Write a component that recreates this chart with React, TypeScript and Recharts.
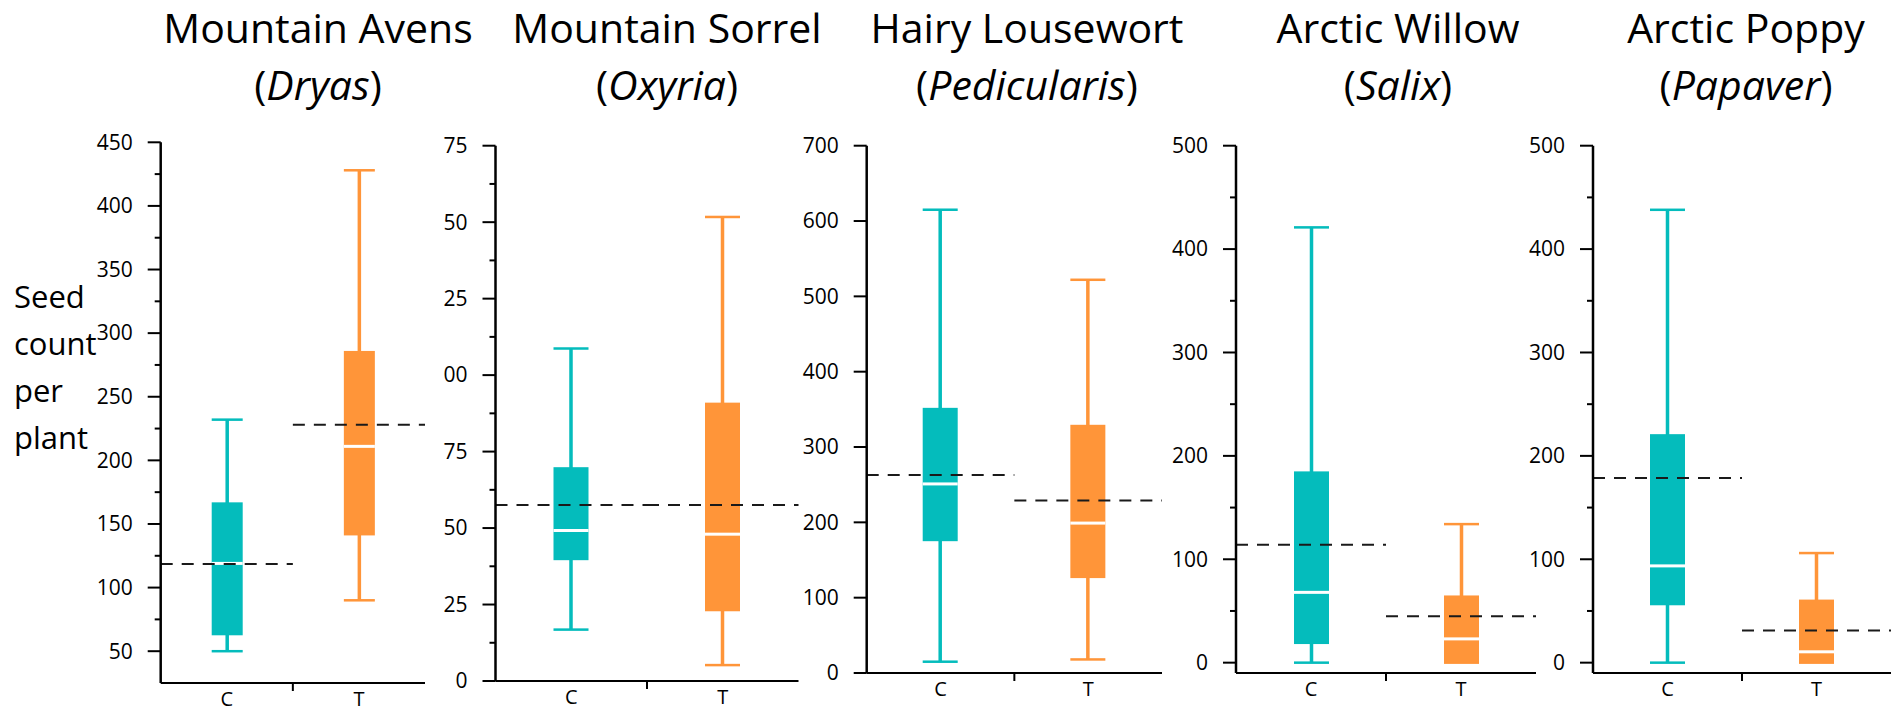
import { ComposedChart, Bar, XAxis, YAxis, ReferenceLine } from "recharts";

const groups = ["C", "T"];
const commonNames = ["Mountain Avens", "Mountain Sorrel", "Hairy Lousewort", "Arctic Willow", "Arctic Poppy"];
const genera = ["Dryas", "Oxyria", "Pedicularis", "Salix", "Papaver"];

// five-number summaries [min, q1, median, q3, max] for C and T
const dryasBoxes = [[50, 62.5, 119, 167, 232], [90, 141, 211, 286, 428]];
const oxyriaBoxes = [[16.8, 39.5, 49.2, 69.9, 108.7], [5.2, 22.8, 48, 91, 151.7]];
const pedicularisBoxes = [[15, 175, 251, 352, 615], [18, 126, 199, 329.5, 522]];
const salixBoxes = [[0, 18, 68, 185, 421], [0, 0, 23, 65, 134]];
const papaverBoxes = [[0, 55.5, 93.6, 221, 438], [0, 0, 10.5, 61, 106]];

// group means (dashed lines)
const dryasMeans = [118.5, 228];
const oxyriaMeans = [57.5, 57.5];
const pedicularisMeans = [263, 229];
const salixMeans = [114, 45];
const papaverMeans = [178.5, 31];

// y axes
const dryasDomain = [25, 450];
const dryasTicks = [50, 75, 100, 125, 150, 175, 200, 225, 250, 275, 300, 325, 350, 375, 400, 425, 450];
const dryasLabels = [50, 100, 150, 200, 250, 300, 350, 400, 450];
const oxyriaDomain = [0, 175];
const oxyriaTicks = [0, 12.5, 25, 37.5, 50, 62.5, 75, 87.5, 100, 112.5, 125, 137.5, 150, 162.5, 175];
const oxyriaLabels = [0, 25, 50, 75, 100, 125, 150, 175];
const pedicularisDomain = [0, 700];
const pedicularisTicks = [0, 100, 200, 300, 400, 500, 600, 700];
const pedicularisLabels = [0, 100, 200, 300, 400, 500, 600, 700];
const salixDomain = [-10, 500];
const salixTicks = [0, 50, 100, 150, 200, 250, 300, 350, 400, 450, 500];
const salixLabels = [0, 100, 200, 300, 400, 500];
const papaverDomain = [-10, 500];
const papaverTicks = [0, 50, 100, 150, 200, 250, 300, 350, 400, 450, 500];
const papaverLabels = [0, 100, 200, 300, 400, 500];

const boxes = [dryasBoxes, oxyriaBoxes, pedicularisBoxes, salixBoxes, papaverBoxes];
const means = [dryasMeans, oxyriaMeans, pedicularisMeans, salixMeans, papaverMeans];
const domains = [dryasDomain, oxyriaDomain, pedicularisDomain, salixDomain, papaverDomain];
const ticks = [dryasTicks, oxyriaTicks, pedicularisTicks, salixTicks, papaverTicks];
const labels = [dryasLabels, oxyriaLabels, pedicularisLabels, salixLabels, papaverLabels];

const COLORS = ["#04BCBC", "#FF9539"];
const FONT = "'Open Sans', sans-serif";

// panel placement on the page (panel 2 is clipped on its left, as in the source figure)
const layout = [
  { left: 0, width: 440, axisX: 160.7, right: 425, top: 142.3, bottom: 683, barSize: 31, clip: false, center: 318 },
  { left: 439.5, width: 360.5, axisX: 495, right: 798, top: 145.7, bottom: 681, barSize: 35, clip: true, center: 667 },
  { left: 780, width: 386, axisX: 866.7, right: 1162, top: 145.7, bottom: 673, barSize: 35, clip: false, center: 1027 },
  { left: 1150, width: 390, axisX: 1236, right: 1536, top: 145.7, bottom: 673, barSize: 35, clip: false, center: 1398 },
  { left: 1510, width: 381, axisX: 1593, right: 1891, top: 145.7, bottom: 673, barSize: 35, clip: false, center: 1746 },
];

function BoxShape(props: any) {
  const { x, y, width, height, payload, index } = props;
  const fill = COLORS[index % 2];
  const top = Math.min(y, y + height);
  const h = Math.abs(height);
  const [mn, q1, med, q3, mx] = payload.stats;
  const py = (v: number) => top + ((mx - v) / (mx - mn)) * h;
  const cx = x + width / 2;
  return (
    <g>
      <rect x={cx - 1.75} y={py(mx)} width={3.5} height={py(mn) - py(mx)} fill={fill} />
      <rect x={x} y={py(mx) - 1.25} width={width} height={2.5} fill={fill} />
      <rect x={x} y={py(mn) - 1.25} width={width} height={2.5} fill={fill} />
      <rect x={x} y={py(q3)} width={width} height={py(q1) - py(q3)} fill={fill} />
      <rect x={x} y={py(med) - 1.5} width={width} height={3} fill="#fff" />
    </g>
  );
}

function makeYTick(major: number[]) {
  return (props: any) => {
    const { x, y, payload } = props;
    const isMajor = major.includes(payload.value);
    const len = isMajor ? 13 : 6;
    return (
      <g>
        <line x1={x - len} y1={y} x2={x} y2={y} stroke="#000" strokeWidth={2} />
        {isMajor && (
          <text x={x - 28} y={y} dy="0.35em" textAnchor="end" fontSize={21} fontFamily={FONT} fill="#000">
            {payload.value}
          </text>
        )}
      </g>
    );
  };
}

function XTick(props: any) {
  const { x, y, payload } = props;
  if (payload.value === 1) {
    return <line x1={x} y1={y} x2={x} y2={y + 8} stroke="#000" strokeWidth={2} />;
  }
  return (
    <text x={x} y={y + 23} textAnchor="middle" fontSize={20} fontFamily={FONT} fill="#000">
      {payload.value < 1 ? groups[0] : groups[1]}
    </text>
  );
}

function Panel({ i }: { i: number }) {
  const p = layout[i];
  const data = groups.map((g, k) => ({ group: g, pos: k + 0.5, stats: boxes[i][k] }));
  const xAxisHeight = 26;
  return (
    <div style={{ position: "absolute", left: p.left, top: 0, width: p.width, height: 710, overflow: p.clip ? "hidden" : "visible" }}>
      <ComposedChart
        width={p.width}
        height={710}
        data={data}
        margin={{ top: p.top, right: p.left + p.width - p.right, bottom: 710 - p.bottom - xAxisHeight, left: 0 }}
      >
        <XAxis
          type="number"
          dataKey="pos"
          domain={[0, 2]}
          ticks={[0.5, 1, 1.5]}
          height={xAxisHeight}
          tickLine={false}
          tickSize={0}
          tickMargin={0}
          tick={<XTick />}
          axisLine={{ stroke: "#000", strokeWidth: 2 }}
          interval={0}
        />
        <YAxis
          type="number"
          domain={domains[i]}
          ticks={ticks[i]}
          width={p.axisX - p.left}
          tickLine={false}
          tickSize={0}
          tickMargin={0}
          tick={makeYTick(labels[i])}
          axisLine={{ stroke: "#000", strokeWidth: 2.5 }}
          interval={0}
          allowDataOverflow
        />
        {means[i].map((m, k) => (
          <ReferenceLine
            key={k}
            segment={[{ x: k, y: m }, { x: k + 1, y: m }]}
            stroke="#1a1a1a"
            strokeWidth={2}
            strokeDasharray="12 9"
          />
        ))}
        <Bar
          dataKey={(d: any) => [d.stats[0], d.stats[4]]}
          barSize={p.barSize}
          shape={<BoxShape />}
          isAnimationActive={false}
        />
      </ComposedChart>
    </div>
  );
}

export default function App() {
  const yLabel = ["Seed", "count", "per", "plant"];
  return (
    <div style={{ position: "absolute", left: 0, top: 0, width: 1891, height: 710, overflow: "hidden", background: "#fff", fontFamily: FONT }}>
      {layout.map((_, i) => (
        <Panel key={i} i={i} />
      ))}
      <svg width={1891} height={710} style={{ position: "absolute", left: 0, top: 0, pointerEvents: "none" }}>
        {layout.map((p, i) => (
          <g key={i} fontFamily={FONT} fill="#000" textAnchor="middle">
            <text x={p.center} y={43} fontSize={41}>
              {commonNames[i]}
            </text>
            <text x={p.center} y={100} fontSize={41}>
              (<tspan fontStyle="italic">{genera[i]}</tspan>)
            </text>
          </g>
        ))}
        {yLabel.map((w, k) => (
          <text key={w} x={14} y={308 + k * 47} fontSize={31} fontFamily={FONT} fill="#000">
            {w}
          </text>
        ))}
      </svg>
    </div>
  );
}
